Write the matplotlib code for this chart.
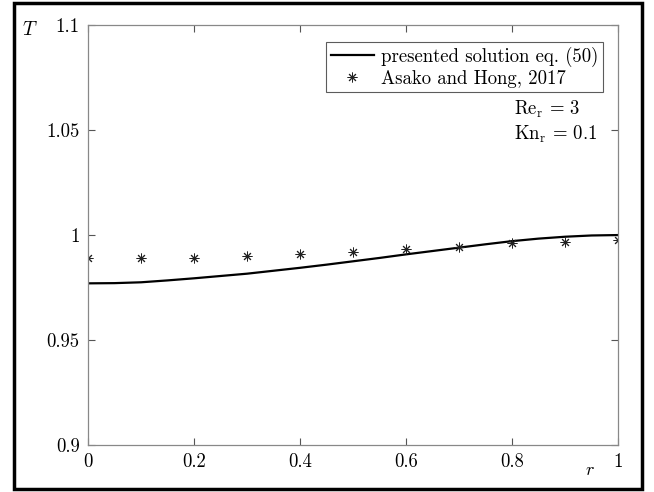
import matplotlib
matplotlib.use("Agg")
import matplotlib.pyplot as plt
from matplotlib.patches import Rectangle

plt.rcParams['font.family'] = ['cmr10', 'DejaVu Serif']
plt.rcParams['mathtext.fontset'] = 'cm'
plt.rcParams['axes.unicode_minus'] = False

# presented solution eq. (50)
r_line = [0, 0.05, 0.1, 0.15, 0.2, 0.25, 0.3, 0.35, 0.4, 0.45, 0.5,
          0.55, 0.6, 0.65, 0.7, 0.75, 0.8, 0.85, 0.9, 0.95, 1.0]
T_line = [0.9770, 0.9771, 0.9775, 0.9784, 0.9794, 0.9805, 0.9816, 0.9830, 0.9844, 0.9859, 0.9875,
          0.9891, 0.9908, 0.9924, 0.9940, 0.9956, 0.9971, 0.9983, 0.9992, 0.9998, 1.0000]

# Asako and Hong, 2017
r_pts = [0, 0.1, 0.2, 0.3, 0.4, 0.5, 0.6, 0.7, 0.8, 0.9, 1.0]
T_pts = [0.9892, 0.9890, 0.9890, 0.9901, 0.9910, 0.9921, 0.9933, 0.9944, 0.9960, 0.9968, 0.9976]

xticks = [0, 0.2, 0.4, 0.6, 0.8, 1]
xticklabels = ['0', '0.2', '0.4', '0.6', '0.8', '1']
yticks = [0.9, 0.95, 1.0, 1.05, 1.1]
yticklabels = ['0.9', '0.95', '1', '1.05', '1.1']

fig = plt.figure(figsize=(6.54, 4.92), dpi=100)
ax = fig.add_axes([0.1346, 0.0955, 0.8104, 0.8535])

ax.plot(r_line, T_line, color='black', linewidth=1.6, label='presented solution eq. (50)')
ax.plot(r_pts, T_pts, linestyle='none', marker=(8, 2, 0), markersize=7,
        markeredgecolor='#222222', markeredgewidth=0.7, color='black',
        label='Asako and Hong, 2017')

ax.set_xlim(0, 1)
ax.set_ylim(0.9, 1.1)
ax.set_xticks(xticks)
ax.set_xticklabels(xticklabels)
ax.set_yticks(yticks)
ax.set_yticklabels(yticklabels)
ax.tick_params(direction='in', top=True, right=True, length=5, width=0.8,
               color='#555555', labelsize=13.5, pad=6)

for s in ax.spines.values():
    s.set_color('#888888')
    s.set_linewidth(0.9)

# axis labels placed like the original
fig.text(30 / 654, 1 - 30 / 492, r'$T$', fontsize=14, ha='center', va='center')
fig.text(590 / 654, 1 - 470 / 492, r'$r$', fontsize=13, ha='center', va='center')

leg = ax.legend(loc='upper right', bbox_to_anchor=(0.972, 0.96), fontsize=13.5,
                frameon=True, fancybox=False, handlelength=2.3, borderpad=0.25,
                labelspacing=0.15, handletextpad=0.4, borderaxespad=0)
leg.get_frame().set_edgecolor('#333333')
leg.get_frame().set_linewidth(0.8)

ax.text(0.803, 0.80, r'$\mathrm{Re}_\mathrm{r}\,=\,3$', transform=ax.transAxes, fontsize=13.5,
        ha='left', va='center')
ax.text(0.803, 0.74, r'$\mathrm{Kn}_\mathrm{r}\,=\,0.1$', transform=ax.transAxes, fontsize=13.5,
        ha='left', va='center')

# outer frame around the whole figure
fig.patches.append(Rectangle((14 / 654, 3 / 492), 628 / 654, 486 / 492,
                             transform=fig.transFigure, fill=False,
                             edgecolor='black', linewidth=2.5))

fig.savefig('out.png', dpi=100)
